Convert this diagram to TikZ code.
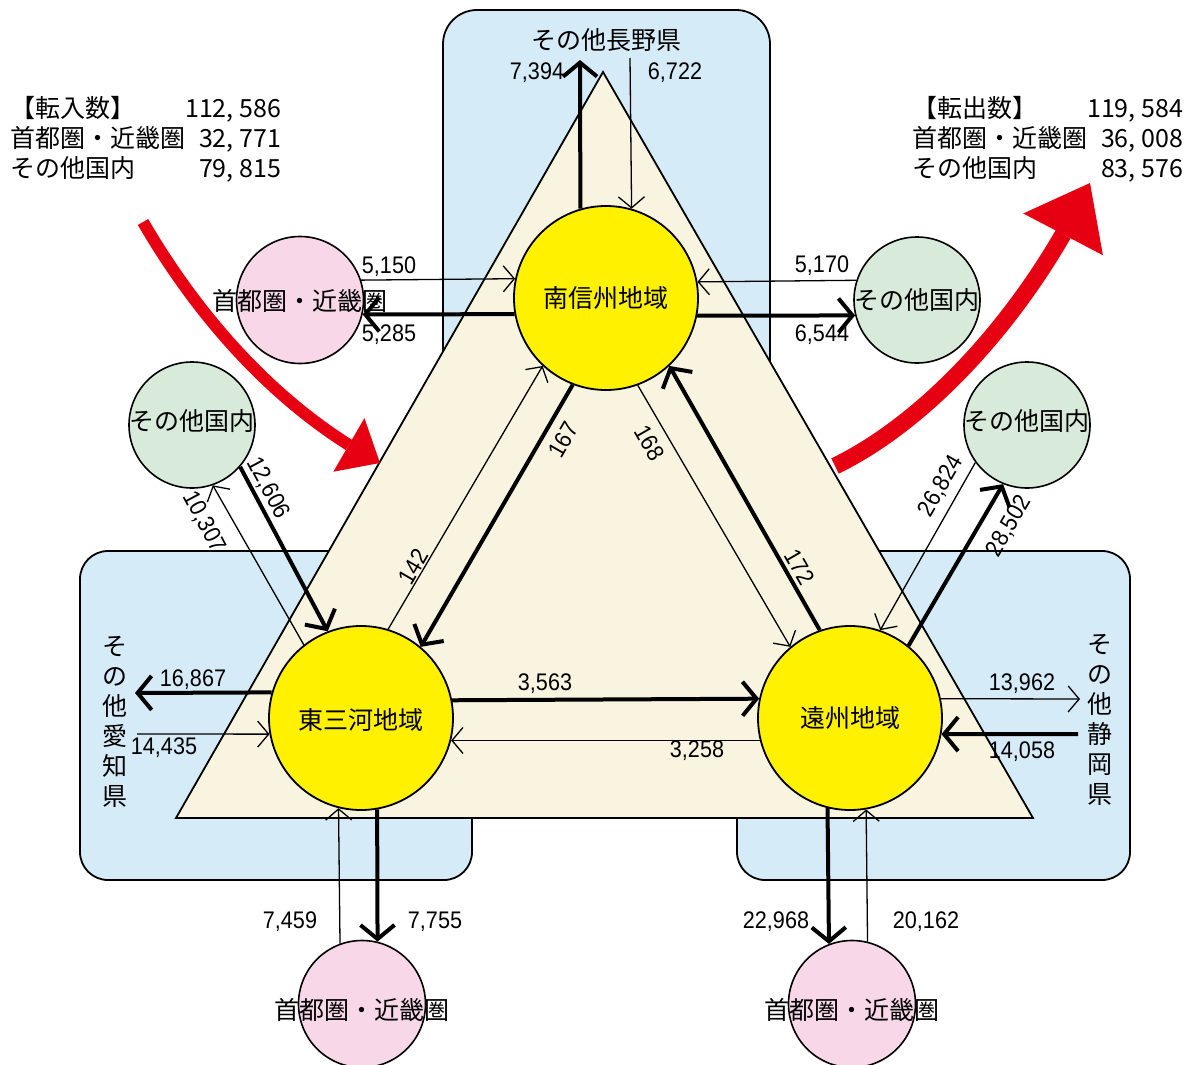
\documentclass[tikz,border=0pt]{standalone}
\usepackage{fontspec}
\setmainfont{Noto Sans CJK JP}
\newfontfamily\numfont[FakeStretch=0.9]{Liberation Sans}
\usetikzlibrary{arrows.meta,bending}

\definecolor{areablue}{HTML}{D6EBF8}
\definecolor{basecream}{HTML}{F9F4DF}
\definecolor{regionyellow}{HTML}{FFF100}
\definecolor{metropink}{HTML}{F8D8E8}
\definecolor{othergreen}{HTML}{D8EADA}
\definecolor{flowred}{HTML}{E60012}

\tikzset{
  region/.style={circle,draw,line width=1.8pt,fill=regionyellow,minimum size=184pt,inner sep=0pt},
  metro/.style={circle,draw,line width=1.6pt,fill=metropink,minimum size=127pt,inner sep=0pt},
  other/.style={circle,draw,line width=1.6pt,fill=othergreen,minimum size=126pt,inner sep=0pt},
  area/.style={draw,line width=1.8pt,fill=areablue},
  smallflow/.style={line width=1.3pt,-{Straight Barb[length=11pt,width=26pt]}},
  bigflow/.style={line width=4pt,-{Straight Barb[length=14pt,width=34pt]}},
  num/.style={font=\numfont\fontsize{24}{27}\selectfont,inner sep=0pt},
  place/.style={font=\fontsize{25}{30}\selectfont,inner sep=0pt,align=center},
  bigarrow/.style={flowred,line cap=butt}
}

\begin{document}
\begin{tikzpicture}[x=1pt,y=-1pt]
  \clip (0,0) rectangle (1187,1065);
  \fill[white] (0,0) rectangle (1187,1065);

  % prefecture areas and the triangle
  \draw[area,rounded corners=34pt] (443,10) rectangle (770,430);
  \draw[area,rounded corners=28pt] (80,551) rectangle (472,880);
  \draw[area,rounded corners=28pt] (737,551) rectangle (1130,880);
  \draw[line width=1.8pt,fill=basecream] (603,72) -- (176,818) -- (1033,818) -- cycle;

  % totals in and out
  \draw[bigarrow,line width=12pt,-{Triangle[length=36pt,width=62pt,line width=0pt]}]
    (143,222) .. controls (200,320) and (280,410) .. (380,463);
  \draw[bigarrow,line width=17pt,-{Triangle[length=58pt,width=90pt,line width=0pt]}]
    (835,466) .. controls (930,420) and (1030,310) .. (1090,183);
  \node[anchor=west,inner sep=0pt,font=\fontsize{25}{30}\selectfont] (inTotals) at (10,141)
    {\begin{tabular*}{270pt}{@{}l@{\extracolsep{\fill}}r@{}}
      【転入数】&112, 586\\ 首都圏・近畿圏&32, 771\\ その他国内&79, 815
     \end{tabular*}};
  \node[anchor=west,inner sep=0pt,font=\fontsize{25}{30}\selectfont] (outTotals) at (912,141)
    {\begin{tabular*}{270pt}{@{}l@{\extracolsep{\fill}}r@{}}
      【転出数】&119, 584\\ 首都圏・近畿圏&36, 008\\ その他国内&83, 576
     \end{tabular*}};

  % circles
  \node[region] (nanshin) at (606,298) {};
  \node[region] (higashi) at (361,718) {};
  \node[region] (enshu) at (850,718) {};
  \node[metro] (metroN) at (300,300) {};
  \node[metro] (metroH) at (362,1004) {};
  \node[metro] (metroE) at (852,1004) {};
  \node[other] (otherN) at (917,300) {};
  \node[other] (otherH) at (192,425) {};
  \node[other] (otherE) at (1027,425) {};

  \coordinate (naganoOut) at (580,60);
  \coordinate (naganoIn) at (630,58);
  \coordinate (aichiOut) at (135,693);
  \coordinate (aichiIn) at (137,734);
  \coordinate (shizuokaOut) at (1080,699);
  \coordinate (shizuokaIn) at (1078,734);

  % flows
  \draw[bigflow] (nanshin.106.4) -- (naganoOut);
  \draw[smallflow] (naganoIn) -- (nanshin.74.9);
  \draw[smallflow] (metroN.18.2) -- (nanshin.168.7);
  \draw[bigflow] (nanshin.190.6) -- (metroN.-13.6);
  \draw[smallflow] (otherN.162.4) -- (nanshin.10.6);
  \draw[bigflow] (nanshin.-11.3) -- (otherN.194.7);
  \draw[bigflow] (otherH.-41.2) -- (higashi.111.5);
  \draw[smallflow] (higashi.128.9) -- (otherH.-71.6);
  \draw[bigflow] (enshu.51.5) -- (otherE.248);
  \draw[smallflow] (otherE.216.2) -- (enshu.71.6);
  \draw[smallflow] (higashi.73) -- (nanshin.227.6);
  \draw[bigflow] (nanshin.249.3) -- (higashi.50.1);
  \draw[smallflow] (nanshin.-70.2) -- (enshu.130.3);
  \draw[bigflow] (enshu.109.6) -- (nanshin.-47.6);
  \draw[bigflow] (higashi.164) -- (aichiOut);
  \draw[smallflow] (aichiIn) -- (higashi.190.1);
  \draw[bigflow] (higashi.11.4) -- (enshu.168.6);
  \draw[smallflow] (enshu.194) -- (higashi.-14);
  \draw[smallflow] (enshu.12.1) -- (shizuokaOut);
  \draw[bigflow] (shizuokaIn) -- (enshu.-10.1);
  \draw[smallflow] (metroH.110.4) -- (higashi.256.7);
  \draw[bigflow] (higashi.280.1) -- (metroH.76.2);
  \draw[bigflow] (enshu.256.7) -- (metroE.111.4);
  \draw[smallflow] (metroE.76.2) -- (enshu.280.8);

  % numbers
  \node[num] (n7394) at (537,73) {7,394};
  \node[num] (n6722) at (675,73) {6,722};
  \node[num] (n5150) at (389,267) {5,150};
  \node[num] (n5285) at (389,335) {5,285};
  \node[num] (n5170) at (822,266) {5,170};
  \node[num] (n6544) at (822,335) {6,544};
  \node[num,rotate=-62] (n12606) at (268,488) {12,606};
  \node[num,rotate=-62] (n10307) at (204,522) {10,307};
  \node[num,rotate=60] (n26824) at (941,486) {26,824};
  \node[num,rotate=60] (n28502) at (1009,526) {28,502};
  \node[num,rotate=60] (n142) at (413,567) {142};
  \node[num,rotate=60] (n167) at (563,440) {167};
  \node[num,rotate=-60] (n168) at (650,443) {168};
  \node[num,rotate=-60] (n172) at (800,567) {172};
  \node[num] (n16867) at (193,680) {16,867};
  \node[num] (n14435) at (164,748) {14,435};
  \node[num] (n3563) at (545,684) {3,563};
  \node[num] (n3258) at (697,751) {3,258};
  \node[num] (n13962) at (1022,684) {13,962};
  \node[num] (n14058) at (1022,752) {14,058};
  \node[num] (n7459) at (290,922) {7,459};
  \node[num] (n7755) at (435,922) {7,755};
  \node[num] (n22968) at (776,922) {22,968};
  \node[num] (n20162) at (926,922) {20,162};

  % place names
  \node[place] (nanshinName) at (606,298) {南信州地域};
  \node[place] (higashiName) at (361,720) {東三河地域};
  \node[place] (enshuName) at (850,718) {遠州地域};
  \node[place] (metroNName) at (300,301) {首都圏・近畿圏};
  \node[place] (metroHName) at (362,1010) {首都圏・近畿圏};
  \node[place] (metroEName) at (852,1010) {首都圏・近畿圏};
  \node[place] (otherNName) at (917,300) {その他国内};
  \node[place] (otherHName) at (192,421) {その他国内};
  \node[place] (otherEName) at (1027,421) {その他国内};
  \node[place] (nagano) at (606,40) {その他長野県};
  \node[place] (aichi) at (115,722) {そ\\の\\他\\愛\\知\\県};
  \node[place] (shizuoka) at (1100,720) {そ\\の\\他\\静\\岡\\県};
\end{tikzpicture}
\end{document}
